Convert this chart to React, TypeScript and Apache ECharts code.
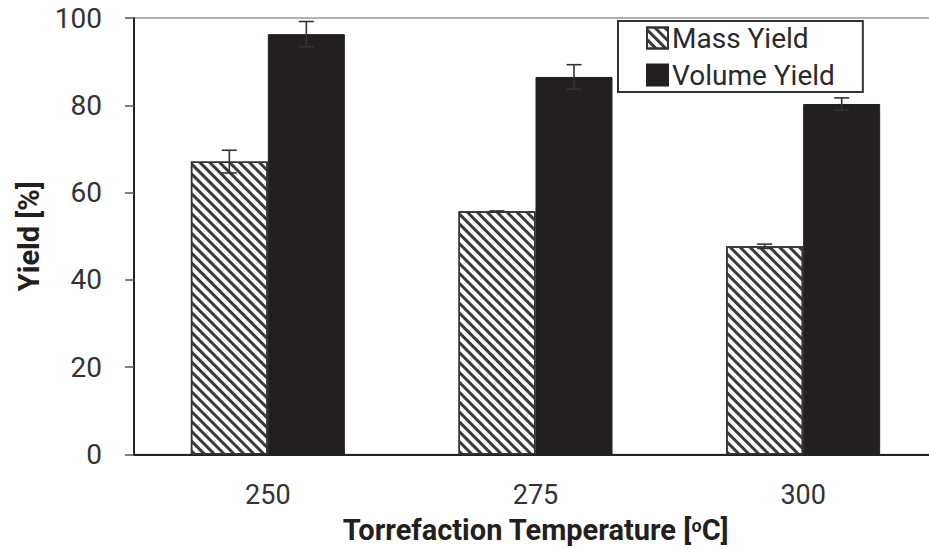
import React, { useEffect, useRef } from "react";
import * as echarts from "echarts";

const categories = ["250", "275", "300"];
const massYield = [67.1, 55.7, 47.7];
const volumeYield = [96.3, 86.5, 80.3];
const massErr = [2.6, 0.1, 0.5];
const volumeErr = [2.9, 2.8, 1.4];
const yTicks = [0, 20, 40, 60, 80, 100];

const FONT = "Roboto, 'Open Sans', sans-serif";
const BAR_W = 77;

export default function App() {
  const ref = useRef<HTMLDivElement>(null);
  useEffect(() => {
    if (!ref.current) return;
    const chart = echarts.init(ref.current, null, { renderer: "svg" });
    const errData: number[][] = [];
    categories.forEach((_, i) => {
      errData.push([i, massYield[i] - massErr[i], massYield[i] + massErr[i], -1]);
      errData.push([i, volumeYield[i] - volumeErr[i], volumeYield[i] + volumeErr[i], 1]);
    });
    chart.setOption({
      animation: false,
      backgroundColor: "#fff",
      textStyle: { fontFamily: FONT },
      grid: {
        left: 134,
        top: 18,
        bottom: 92,
        right: 10,
        show: true,
        borderColor: "#999",
        borderWidth: 1.5,
        containLabel: false,
      },
      legend: {
        data: ["Mass Yield", "Volume Yield"],
        orient: "vertical",
        left: 618,
        top: 21,
        padding: [3, 28, 3, 28],
        itemGap: 9,
        itemWidth: 21,
        itemHeight: 21,
        icon: "rect",
        backgroundColor: "#fff",
        borderColor: "#333",
        borderWidth: 2,
        textStyle: { fontFamily: FONT, fontSize: 28, color: "#2a2a2a", padding: [0, 0, 0, -1] },
      },
      xAxis: {
        type: "category",
        data: categories,
        name: "Torrefaction Temperature [{sup|o}C]",
        nameLocation: "middle",
        nameGap: 62,
        nameTextStyle: {
          fontFamily: FONT,
          fontSize: 29,
          fontWeight: "bold",
          color: "#231f20",
          lineHeight: 26,
          rich: {
            sup: { fontFamily: FONT, fontSize: 18, fontWeight: "bold", color: "#231f20", verticalAlign: "top", lineHeight: 26, padding: [0, 0, 9, 0] },
          },
        },
        axisLine: { lineStyle: { color: "#222", width: 2 } },
        axisTick: { show: false },
        axisLabel: { fontFamily: FONT, fontSize: 27, color: "#333", margin: 29, lineHeight: 22 },
      },
      yAxis: {
        type: "value",
        min: yTicks[0],
        max: yTicks[yTicks.length - 1],
        interval: 20,
        name: "Yield [%]",
        nameLocation: "middle",
        nameRotate: 90,
        nameGap: 91,
        nameTextStyle: { fontFamily: FONT, fontSize: 29, fontWeight: "bold", color: "#231f20" },
        axisLine: { show: true, lineStyle: { color: "#222", width: 2 } },
        axisTick: { show: true, length: 9, lineStyle: { color: "#555", width: 1.5 } },
        splitLine: { show: false },
        axisLabel: { fontFamily: FONT, fontSize: 28, color: "#333", margin: 32 },
      },
      series: [
        {
          name: "Mass Yield",
          type: "bar",
          data: massYield,
          barWidth: BAR_W,
          barGap: "0%",
          itemStyle: {
            color: "#fff",
            borderColor: "#333",
            borderWidth: 1.5,
            decal: {
              symbol: "rect",
              symbolSize: 1,
              dashArrayX: [1, 0],
              dashArrayY: [2.2, 3.5],
              rotation: Math.PI / 4,
              color: "#3a3a3a",
            },
          },
        },
        {
          name: "Volume Yield",
          type: "bar",
          data: volumeYield,
          barWidth: BAR_W,
          barGap: "0%",
          itemStyle: { color: "#231f20", borderColor: "#231f20", borderWidth: 1 },
        },
        {
          name: "err",
          type: "custom",
          z: 10,
          data: errData,
          encode: { x: 0, y: [1, 2] },
          renderItem: (params: any, api: any) => {
            const xi = api.value(0);
            const lo = api.coord([xi, api.value(1)]);
            const hi = api.coord([xi, api.value(2)]);
            const cx = lo[0] + api.value(3) * (BAR_W / 2);
            const cap = 7.5;
            const style = { stroke: "#333", lineWidth: 1.6 };
            return {
              type: "group",
              children: [
                { type: "line", shape: { x1: cx, y1: lo[1], x2: cx, y2: hi[1] }, style },
                { type: "line", shape: { x1: cx - cap, y1: hi[1], x2: cx + cap, y2: hi[1] }, style },
                { type: "line", shape: { x1: cx - cap, y1: lo[1], x2: cx + cap, y2: lo[1] }, style },
              ],
            };
          },
        },
      ],
    });
    return () => chart.dispose();
  }, []);
  return (
    <div style={{ position: "fixed", left: 0, top: 0, width: 929, height: 549, overflow: "hidden", background: "#fff" }}>
      <div ref={ref} style={{ position: "absolute", left: 0, top: 0, width: 947, height: 549 }} />
    </div>
  );
}
